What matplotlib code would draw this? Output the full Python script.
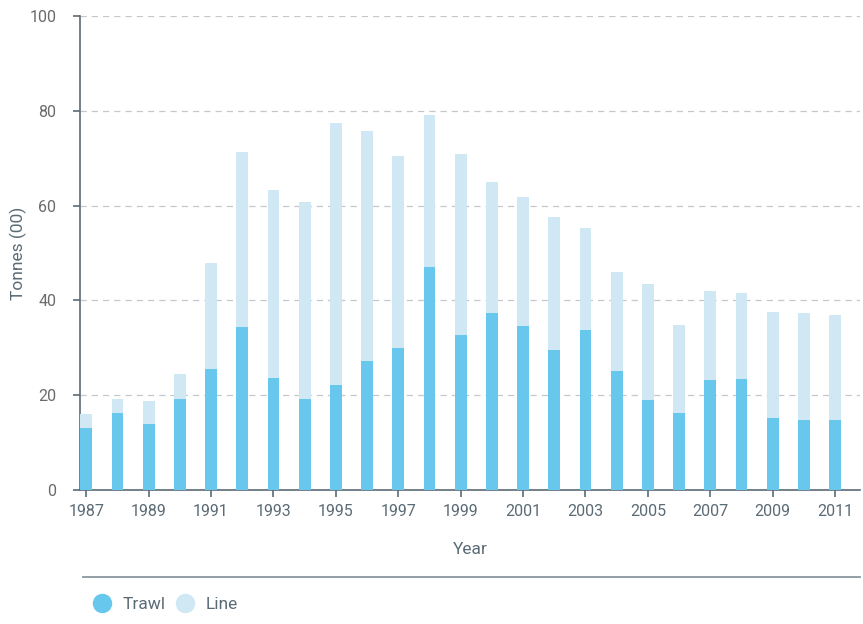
import matplotlib
matplotlib.use("Agg")
import matplotlib.pyplot as plt
from matplotlib.lines import Line2D

plt.rcParams['font.family'] = ['Roboto', 'DejaVu Sans']

years = list(range(1987, 2012))
trawl = [13.0, 16.2, 13.9, 19.2, 25.5, 34.4, 23.6, 19.2, 22.2, 27.2,
         30.0, 47.0, 32.7, 37.3, 34.6, 29.5, 33.8, 25.1, 19.0, 16.2,
         23.2, 23.4, 15.2, 14.8, 14.8]
totals = [16.1, 19.2, 18.8, 24.5, 47.9, 71.3, 63.3, 60.8, 77.4, 75.7,
          70.5, 79.1, 70.9, 65.0, 61.8, 57.6, 55.3, 46.0, 43.5, 34.8,
          42.0, 41.6, 37.6, 37.3, 37.0]
line = [t - w for t, w in zip(totals, trawl)]

TRAWL_C = '#67c7ec'
LINE_C = '#d0e8f3'
AXIS_C = '#5b6b76'
TEXT_C = '#5b6b76'

fig = plt.figure(figsize=(8.63, 6.24), dpi=100)
ax = fig.add_axes([80 / 863, 1 - 490 / 624, 780 / 863, 474 / 624])

ax.bar(years, trawl, width=0.38, color=TRAWL_C, zorder=3)
ax.bar(years, line, width=0.38, bottom=trawl, color=LINE_C, zorder=3)

ax.set_xlim(1986.8, 2011.8)
ax.set_ylim(0, 100)
ax.set_yticks([0, 20, 40, 60, 80, 100])
ax.set_xticks(years[::2])

for y in [20, 40, 60, 80, 100]:
    ax.axhline(y, color='#c4c8cc', linestyle=(0, (5, 4)), linewidth=0.9, zorder=1)

for s in ['top', 'right']:
    ax.spines[s].set_visible(False)
for s in ['left', 'bottom']:
    ax.spines[s].set_color(AXIS_C)
    ax.spines[s].set_linewidth(1.2)

ax.tick_params(axis='x', colors=AXIS_C, labelcolor=TEXT_C, labelsize=11.5,
               length=5, width=1.2, pad=5)
ax.tick_params(axis='y', colors=AXIS_C, labelcolor='#6b6b6b', labelsize=11.5,
               length=5, width=1.2, pad=12)

fig.text(18 / 863, 1 - 253 / 624, 'Tonnes (00)', color=TEXT_C, fontsize=12.5,
         rotation=90, ha='center', va='center')
ax.set_xlabel('Year', color=TEXT_C, fontsize=12.5, labelpad=17)

# separator line above the legend
fig.add_artist(Line2D([83 / 863, 860 / 863], [1 - 577 / 624, 1 - 577 / 624],
                      color='#8a979f', linewidth=1.3))

handles = [
    Line2D([], [], marker='o', linestyle='none', markersize=13,
           markerfacecolor=TRAWL_C, markeredgecolor=TRAWL_C, label='Trawl'),
    Line2D([], [], marker='o', linestyle='none', markersize=13,
           markerfacecolor=LINE_C, markeredgecolor=LINE_C, label='Line'),
]
leg = fig.legend(handles=handles, loc='center left',
                 bbox_to_anchor=(93 / 863, 1 - 604 / 624), ncol=2, frameon=False,
                 fontsize=12.5, handletextpad=0.7, columnspacing=0.6,
                 handlelength=1.0, borderaxespad=0, borderpad=0)
for t in leg.get_texts():
    t.set_color(TEXT_C)

fig.savefig('out.png', dpi=100)
